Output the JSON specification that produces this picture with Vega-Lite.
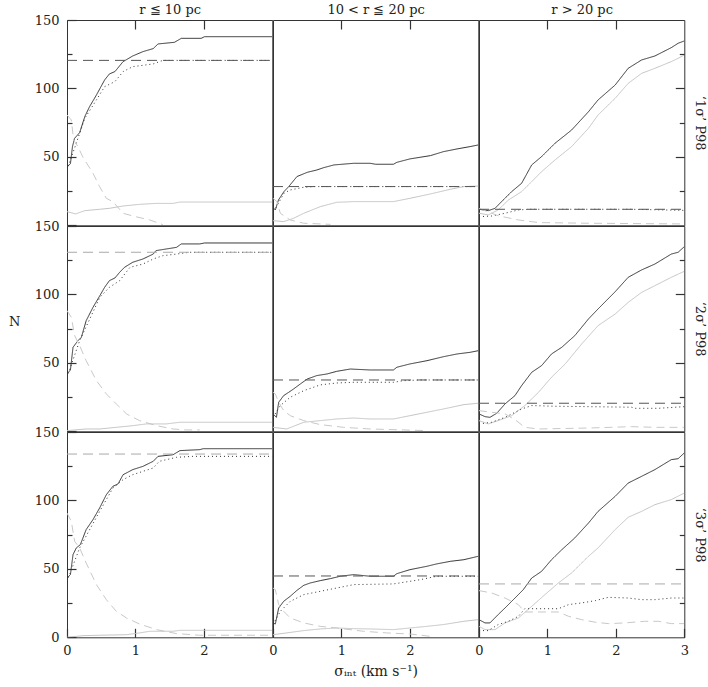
{
"$schema": "https://vega.github.io/schema/vega-lite/v6.json",
"padding": {"left": 7, "top": 2, "right": 5, "bottom": 5},
"background": "white",
"datasets": {"d": [
{"p":"a1","s":"t","x":0,"y":42.8},{"p":"a1","s":"t","x":0.05,"y":45},{"p":"a1","s":"t","x":0.08,"y":57.5},{"p":"a1","s":"t","x":0.11,"y":63.5},{"p":"a1","s":"t","x":0.185,"y":67.7},{"p":"a1","s":"t","x":0.26,"y":79.4},{"p":"a1","s":"t","x":0.33,"y":86.7},{"p":"a1","s":"t","x":0.43,"y":95.2},{"p":"a1","s":"t","x":0.55,"y":106.2},{"p":"a1","s":"t","x":0.62,"y":110.6},{"p":"a1","s":"t","x":0.7,"y":112.3},{"p":"a1","s":"t","x":0.82,"y":119.6},{"p":"a1","s":"t","x":0.96,"y":123.7},{"p":"a1","s":"t","x":1.11,"y":126.9},{"p":"a1","s":"t","x":1.26,"y":129.1},{"p":"a1","s":"t","x":1.33,"y":132.5},{"p":"a1","s":"t","x":1.57,"y":133.7},{"p":"a1","s":"t","x":1.67,"y":136.6},{"p":"a1","s":"t","x":1.96,"y":136.6},{"p":"a1","s":"t","x":2.01,"y":137.8},{"p":"a1","s":"t","x":3,"y":137.8},
{"p":"a1","s":"d","x":0,"y":40.4},{"p":"a1","s":"d","x":0.185,"y":67.2},{"p":"a1","s":"d","x":0.26,"y":78.2},{"p":"a1","s":"d","x":0.43,"y":91.6},{"p":"a1","s":"d","x":0.55,"y":101.3},{"p":"a1","s":"d","x":0.7,"y":105},{"p":"a1","s":"d","x":0.82,"y":112.3},{"p":"a1","s":"d","x":0.96,"y":115.9},{"p":"a1","s":"d","x":1.26,"y":117.9},{"p":"a1","s":"d","x":1.4,"y":120.5},{"p":"a1","s":"d","x":3,"y":120.5},
{"p":"a1","s":"g","x":0,"y":10},{"p":"a1","s":"g","x":0.127,"y":8.3},{"p":"a1","s":"g","x":0.26,"y":10.7},{"p":"a1","s":"g","x":0.477,"y":11.7},{"p":"a1","s":"g","x":0.62,"y":12.4},{"p":"a1","s":"g","x":0.82,"y":14.1},{"p":"a1","s":"g","x":1.06,"y":15.3},{"p":"a1","s":"g","x":1.3,"y":16},{"p":"a1","s":"g","x":1.55,"y":16},{"p":"a1","s":"g","x":1.65,"y":17},{"p":"a1","s":"g","x":3,"y":17},
{"p":"a1","s":"e","x":0,"y":80.6},{"p":"a1","s":"e","x":0.063,"y":77},{"p":"a1","s":"e","x":0.097,"y":62.3},{"p":"a1","s":"e","x":0.16,"y":57.5},{"p":"a1","s":"e","x":0.23,"y":50},{"p":"a1","s":"e","x":0.38,"y":38},{"p":"a1","s":"e","x":0.477,"y":28.2},{"p":"a1","s":"e","x":0.575,"y":19.7},{"p":"a1","s":"e","x":0.67,"y":17.3},{"p":"a1","s":"e","x":0.82,"y":8.8},{"p":"a1","s":"e","x":0.96,"y":6.8},{"p":"a1","s":"e","x":1.21,"y":3.9},{"p":"a1","s":"e","x":1.4,"y":0.5},
{"p":"a1","s":"h","x":0,"y":120.5},{"p":"a1","s":"h","x":3,"y":120.5},

{"p":"a2","s":"t","x":0,"y":13},{"p":"a2","s":"t","x":0.034,"y":11.2},{"p":"a2","s":"t","x":0.08,"y":18.5},{"p":"a2","s":"t","x":0.16,"y":24.6},{"p":"a2","s":"t","x":0.23,"y":28.3},{"p":"a2","s":"t","x":0.35,"y":35.6},{"p":"a2","s":"t","x":0.5,"y":38.7},{"p":"a2","s":"t","x":0.64,"y":40.4},{"p":"a2","s":"t","x":0.74,"y":42.1},{"p":"a2","s":"t","x":0.89,"y":44.1},{"p":"a2","s":"t","x":1.18,"y":45.3},{"p":"a2","s":"t","x":1.42,"y":45.3},{"p":"a2","s":"t","x":1.5,"y":44.6},{"p":"a2","s":"t","x":1.76,"y":44.6},{"p":"a2","s":"t","x":1.81,"y":46},{"p":"a2","s":"t","x":2,"y":48.5},{"p":"a2","s":"t","x":2.3,"y":50.9},{"p":"a2","s":"t","x":2.49,"y":53.8},{"p":"a2","s":"t","x":2.69,"y":55.8},{"p":"a2","s":"t","x":2.88,"y":57.5},{"p":"a2","s":"t","x":3,"y":58.7},
{"p":"a2","s":"d","x":0,"y":11},{"p":"a2","s":"d","x":0.034,"y":12},{"p":"a2","s":"d","x":0.16,"y":23.4},{"p":"a2","s":"d","x":0.25,"y":25.8},{"p":"a2","s":"d","x":0.45,"y":27.8},{"p":"a2","s":"d","x":0.6,"y":28.3},{"p":"a2","s":"d","x":3,"y":28.3},
{"p":"a2","s":"g","x":0,"y":3.4},{"p":"a2","s":"g","x":0.156,"y":2.7},{"p":"a2","s":"g","x":0.3,"y":5.1},{"p":"a2","s":"g","x":0.45,"y":8.8},{"p":"a2","s":"g","x":0.69,"y":13.6},{"p":"a2","s":"g","x":0.93,"y":16.8},{"p":"a2","s":"g","x":1.18,"y":17.3},{"p":"a2","s":"g","x":1.76,"y":17.3},{"p":"a2","s":"g","x":2,"y":19.7},{"p":"a2","s":"g","x":2.3,"y":22.9},{"p":"a2","s":"g","x":2.59,"y":26.3},{"p":"a2","s":"g","x":2.79,"y":28.3},{"p":"a2","s":"g","x":3,"y":28.7},
{"p":"a2","s":"e","x":0,"y":19.7},{"p":"a2","s":"e","x":0.058,"y":17.3},{"p":"a2","s":"e","x":0.107,"y":8.8},{"p":"a2","s":"e","x":0.25,"y":3.9},{"p":"a2","s":"e","x":0.45,"y":1.5},{"p":"a2","s":"e","x":0.84,"y":0.7},
{"p":"a2","s":"h","x":0,"y":28.3},{"p":"a2","s":"h","x":3,"y":28.3},

{"p":"a3","s":"t","x":0,"y":11.7},{"p":"a3","s":"t","x":0.136,"y":10.7},{"p":"a3","s":"t","x":0.234,"y":12.4},{"p":"a3","s":"t","x":0.33,"y":17.3},{"p":"a3","s":"t","x":0.477,"y":24.6},{"p":"a3","s":"t","x":0.623,"y":30.7},{"p":"a3","s":"t","x":0.77,"y":44.1},{"p":"a3","s":"t","x":0.915,"y":50.2},{"p":"a3","s":"t","x":1.11,"y":59.9},{"p":"a3","s":"t","x":1.353,"y":69.6},{"p":"a3","s":"t","x":1.6,"y":83},{"p":"a3","s":"t","x":1.74,"y":91.6},{"p":"a3","s":"t","x":1.99,"y":102.5},{"p":"a3","s":"t","x":2.18,"y":114.7},{"p":"a3","s":"t","x":2.376,"y":120.8},{"p":"a3","s":"t","x":2.57,"y":123.7},{"p":"a3","s":"t","x":2.81,"y":129.8},{"p":"a3","s":"t","x":2.91,"y":133},{"p":"a3","s":"t","x":3,"y":134.7},
{"p":"a3","s":"g","x":0,"y":8.8},{"p":"a3","s":"g","x":0.136,"y":7.6},{"p":"a3","s":"g","x":0.28,"y":11.2},{"p":"a3","s":"g","x":0.43,"y":18.5},{"p":"a3","s":"g","x":0.623,"y":24.6},{"p":"a3","s":"g","x":0.77,"y":31.9},{"p":"a3","s":"g","x":0.915,"y":39.2},{"p":"a3","s":"g","x":1.11,"y":47.7},{"p":"a3","s":"g","x":1.353,"y":57.5},{"p":"a3","s":"g","x":1.6,"y":70.9},{"p":"a3","s":"g","x":1.74,"y":80.6},{"p":"a3","s":"g","x":1.99,"y":92.8},{"p":"a3","s":"g","x":2.18,"y":103.7},{"p":"a3","s":"g","x":2.376,"y":111},{"p":"a3","s":"g","x":2.57,"y":114.7},{"p":"a3","s":"g","x":2.81,"y":119.6},{"p":"a3","s":"g","x":2.91,"y":122},{"p":"a3","s":"g","x":3,"y":124.4},
{"p":"a3","s":"d","x":0,"y":6.3},{"p":"a3","s":"d","x":0.185,"y":6.8},{"p":"a3","s":"d","x":0.38,"y":8.8},{"p":"a3","s":"d","x":0.575,"y":11.2},{"p":"a3","s":"d","x":0.72,"y":11.7},{"p":"a3","s":"d","x":2.23,"y":11.7},{"p":"a3","s":"d","x":3,"y":10.9},
{"p":"a3","s":"e","x":0,"y":12.4},{"p":"a3","s":"e","x":0.28,"y":7},{"p":"a3","s":"e","x":0.575,"y":3.9},{"p":"a3","s":"e","x":0.87,"y":2},{"p":"a3","s":"e","x":1.6,"y":1.5},{"p":"a3","s":"e","x":3,"y":1},
{"p":"a3","s":"h","x":0,"y":11.7},{"p":"a3","s":"h","x":3,"y":11.7},

{"p":"b1","s":"t","x":0,"y":41.9},{"p":"b1","s":"t","x":0.05,"y":44.8},{"p":"b1","s":"t","x":0.088,"y":61.4},{"p":"b1","s":"t","x":0.16,"y":66.2},{"p":"b1","s":"t","x":0.21,"y":68.7},{"p":"b1","s":"t","x":0.28,"y":80.8},{"p":"b1","s":"t","x":0.38,"y":90.6},{"p":"b1","s":"t","x":0.48,"y":99.1},{"p":"b1","s":"t","x":0.55,"y":105.2},{"p":"b1","s":"t","x":0.62,"y":110.1},{"p":"b1","s":"t","x":0.7,"y":112},{"p":"b1","s":"t","x":0.77,"y":116.2},{"p":"b1","s":"t","x":0.84,"y":119.8},{"p":"b1","s":"t","x":0.96,"y":123.5},{"p":"b1","s":"t","x":1.11,"y":125.9},{"p":"b1","s":"t","x":1.26,"y":129.5},{"p":"b1","s":"t","x":1.3,"y":132},{"p":"b1","s":"t","x":1.45,"y":133.2},{"p":"b1","s":"t","x":1.6,"y":134.4},{"p":"b1","s":"t","x":1.67,"y":136.9},{"p":"b1","s":"t","x":1.94,"y":136.9},{"p":"b1","s":"t","x":2.01,"y":137.6},{"p":"b1","s":"t","x":3,"y":137.6},
{"p":"b1","s":"d","x":0,"y":39.5},{"p":"b1","s":"d","x":0.185,"y":66.2},{"p":"b1","s":"d","x":0.48,"y":97.9},{"p":"b1","s":"d","x":0.62,"y":105.2},{"p":"b1","s":"d","x":0.77,"y":110.1},{"p":"b1","s":"d","x":0.92,"y":119.8},{"p":"b1","s":"d","x":1.11,"y":122.2},{"p":"b1","s":"d","x":1.26,"y":125.9},{"p":"b1","s":"d","x":1.4,"y":128.3},{"p":"b1","s":"d","x":1.6,"y":129.5},{"p":"b1","s":"d","x":1.79,"y":130.8},{"p":"b1","s":"d","x":3,"y":130.8},
{"p":"b1","s":"k","x":0,"y":130.8},{"p":"b1","s":"k","x":3,"y":130.8},
{"p":"b1","s":"e","x":0,"y":88.2},{"p":"b1","s":"e","x":0.063,"y":83.3},{"p":"b1","s":"e","x":0.112,"y":69.9},{"p":"b1","s":"e","x":0.185,"y":62.6},{"p":"b1","s":"e","x":0.28,"y":51.6},{"p":"b1","s":"e","x":0.43,"y":37},{"p":"b1","s":"e","x":0.575,"y":27.3},{"p":"b1","s":"e","x":0.72,"y":20},{"p":"b1","s":"e","x":0.87,"y":12.7},{"p":"b1","s":"e","x":1.06,"y":7.8},{"p":"b1","s":"e","x":1.31,"y":4.1},{"p":"b1","s":"e","x":1.55,"y":1.7},{"p":"b1","s":"e","x":1.74,"y":1},{"p":"b1","s":"e","x":1.94,"y":1},
{"p":"b1","s":"g","x":0,"y":0.5},{"p":"b1","s":"g","x":0.28,"y":1.7},{"p":"b1","s":"g","x":0.48,"y":1.7},{"p":"b1","s":"g","x":0.72,"y":2.9},{"p":"b1","s":"g","x":0.96,"y":4.1},{"p":"b1","s":"g","x":1.16,"y":5.4},{"p":"b1","s":"g","x":1.45,"y":5.4},{"p":"b1","s":"g","x":1.65,"y":6.6},{"p":"b1","s":"g","x":3,"y":6.6},

{"p":"b2","s":"t","x":0,"y":12.7},{"p":"b2","s":"t","x":0.05,"y":10.2},{"p":"b2","s":"t","x":0.083,"y":21.2},{"p":"b2","s":"t","x":0.156,"y":26.1},{"p":"b2","s":"t","x":0.23,"y":28.5},{"p":"b2","s":"t","x":0.3,"y":30.9},{"p":"b2","s":"t","x":0.4,"y":34.6},{"p":"b2","s":"t","x":0.5,"y":38.2},{"p":"b2","s":"t","x":0.64,"y":40.7},{"p":"b2","s":"t","x":0.79,"y":41.9},{"p":"b2","s":"t","x":0.93,"y":43.8},{"p":"b2","s":"t","x":1.13,"y":45.5},{"p":"b2","s":"t","x":1.42,"y":44.8},{"p":"b2","s":"t","x":1.76,"y":44.8},{"p":"b2","s":"t","x":1.81,"y":46.8},{"p":"b2","s":"t","x":2,"y":49.2},{"p":"b2","s":"t","x":2.25,"y":51.6},{"p":"b2","s":"t","x":2.49,"y":54.5},{"p":"b2","s":"t","x":2.69,"y":56.5},{"p":"b2","s":"t","x":2.88,"y":57.7},{"p":"b2","s":"t","x":3,"y":58.9},
{"p":"b2","s":"h","x":0,"y":37.5},{"p":"b2","s":"h","x":3,"y":37.5},
{"p":"b2","s":"d","x":0,"y":10.2},{"p":"b2","s":"d","x":0.107,"y":18.8},{"p":"b2","s":"d","x":0.25,"y":24.8},{"p":"b2","s":"d","x":0.45,"y":29.7},{"p":"b2","s":"d","x":0.69,"y":33.9},{"p":"b2","s":"d","x":0.93,"y":35.3},{"p":"b2","s":"d","x":1.18,"y":35.8},{"p":"b2","s":"d","x":1.76,"y":35.8},{"p":"b2","s":"d","x":1.91,"y":37},{"p":"b2","s":"d","x":2.15,"y":37.5},{"p":"b2","s":"d","x":3,"y":37.5},
{"p":"b2","s":"g","x":0,"y":2.9},{"p":"b2","s":"g","x":0.2,"y":1.7},{"p":"b2","s":"g","x":0.45,"y":6.6},{"p":"b2","s":"g","x":0.69,"y":7.8},{"p":"b2","s":"g","x":0.93,"y":9},{"p":"b2","s":"g","x":1.18,"y":9.7},{"p":"b2","s":"g","x":1.42,"y":9},{"p":"b2","s":"g","x":1.76,"y":9},{"p":"b2","s":"g","x":2,"y":11.4},{"p":"b2","s":"g","x":2.25,"y":13.9},{"p":"b2","s":"g","x":2.49,"y":16.3},{"p":"b2","s":"g","x":2.79,"y":19.5},{"p":"b2","s":"g","x":3,"y":20.5},
{"p":"b2","s":"e","x":0,"y":28.5},{"p":"b2","s":"e","x":0.034,"y":27.3},{"p":"b2","s":"e","x":0.083,"y":21.2},{"p":"b2","s":"e","x":0.156,"y":15.1},{"p":"b2","s":"e","x":0.253,"y":11.4},{"p":"b2","s":"e","x":0.45,"y":7.8},{"p":"b2","s":"e","x":0.69,"y":4.9},{"p":"b2","s":"e","x":1.03,"y":2.9},{"p":"b2","s":"e","x":1.42,"y":1.7},{"p":"b2","s":"e","x":1.91,"y":1},{"p":"b2","s":"e","x":2.25,"y":0.5},

{"p":"b3","s":"t","x":0,"y":12.7},{"p":"b3","s":"t","x":0.088,"y":10.7},{"p":"b3","s":"t","x":0.16,"y":10.2},{"p":"b3","s":"t","x":0.26,"y":13.2},{"p":"b3","s":"t","x":0.38,"y":20},{"p":"b3","s":"t","x":0.526,"y":26.1},{"p":"b3","s":"t","x":0.623,"y":33.4},{"p":"b3","s":"t","x":0.77,"y":43.1},{"p":"b3","s":"t","x":0.915,"y":48},{"p":"b3","s":"t","x":1.06,"y":56.5},{"p":"b3","s":"t","x":1.21,"y":61.4},{"p":"b3","s":"t","x":1.4,"y":69.9},{"p":"b3","s":"t","x":1.6,"y":82.1},{"p":"b3","s":"t","x":1.74,"y":89.4},{"p":"b3","s":"t","x":1.99,"y":102},{"p":"b3","s":"t","x":2.18,"y":112.5},{"p":"b3","s":"t","x":2.376,"y":117.9},{"p":"b3","s":"t","x":2.57,"y":122.2},{"p":"b3","s":"t","x":2.81,"y":129.5},{"p":"b3","s":"t","x":2.91,"y":130.8},{"p":"b3","s":"t","x":3,"y":134.9},
{"p":"b3","s":"g","x":0,"y":7.8},{"p":"b3","s":"g","x":0.136,"y":5.4},{"p":"b3","s":"g","x":0.28,"y":7.8},{"p":"b3","s":"g","x":0.477,"y":11.4},{"p":"b3","s":"g","x":0.67,"y":18.8},{"p":"b3","s":"g","x":0.87,"y":28.5},{"p":"b3","s":"g","x":1.06,"y":39.5},{"p":"b3","s":"g","x":1.26,"y":49.2},{"p":"b3","s":"g","x":1.5,"y":63.8},{"p":"b3","s":"g","x":1.74,"y":77.2},{"p":"b3","s":"g","x":1.99,"y":85.7},{"p":"b3","s":"g","x":2.18,"y":94.2},{"p":"b3","s":"g","x":2.376,"y":101.5},{"p":"b3","s":"g","x":2.57,"y":106.4},{"p":"b3","s":"g","x":2.81,"y":112.5},{"p":"b3","s":"g","x":3,"y":116.9},
{"p":"b3","s":"h","x":0,"y":20.5},{"p":"b3","s":"h","x":3,"y":20.5},
{"p":"b3","s":"d","x":0,"y":5.4},{"p":"b3","s":"d","x":0.185,"y":6.6},{"p":"b3","s":"d","x":0.38,"y":10.2},{"p":"b3","s":"d","x":0.623,"y":16.3},{"p":"b3","s":"d","x":0.77,"y":18.8},{"p":"b3","s":"d","x":1.11,"y":18.3},{"p":"b3","s":"d","x":2.23,"y":17.6},{"p":"b3","s":"d","x":2.28,"y":16.8},{"p":"b3","s":"d","x":2.62,"y":16.8},{"p":"b3","s":"d","x":3,"y":18},
{"p":"b3","s":"e","x":0,"y":15.1},{"p":"b3","s":"e","x":0.185,"y":13.9},{"p":"b3","s":"e","x":0.38,"y":12.7},{"p":"b3","s":"e","x":0.526,"y":8.5},{"p":"b3","s":"e","x":0.67,"y":2.9},{"p":"b3","s":"e","x":0.87,"y":1.7},{"p":"b3","s":"e","x":1.6,"y":2.4},{"p":"b3","s":"e","x":2.23,"y":3.4},{"p":"b3","s":"e","x":2.57,"y":2.9},{"p":"b3","s":"e","x":3,"y":2.9},

{"p":"c1","s":"t","x":0,"y":43.3},{"p":"c1","s":"t","x":0.05,"y":45.8},{"p":"c1","s":"t","x":0.088,"y":60.4},{"p":"c1","s":"t","x":0.136,"y":65.3},{"p":"c1","s":"t","x":0.195,"y":67.7},{"p":"c1","s":"t","x":0.28,"y":78.7},{"p":"c1","s":"t","x":0.38,"y":86},{"p":"c1","s":"t","x":0.477,"y":94.5},{"p":"c1","s":"t","x":0.575,"y":104.2},{"p":"c1","s":"t","x":0.67,"y":110.3},{"p":"c1","s":"t","x":0.745,"y":112},{"p":"c1","s":"t","x":0.82,"y":118.8},{"p":"c1","s":"t","x":0.96,"y":122.5},{"p":"c1","s":"t","x":1.11,"y":124.9},{"p":"c1","s":"t","x":1.26,"y":128.6},{"p":"c1","s":"t","x":1.33,"y":132.2},{"p":"c1","s":"t","x":1.55,"y":133.4},{"p":"c1","s":"t","x":1.65,"y":136.4},{"p":"c1","s":"t","x":1.94,"y":137.1},{"p":"c1","s":"t","x":1.99,"y":137.8},{"p":"c1","s":"t","x":3,"y":137.8},
{"p":"c1","s":"d","x":0,"y":40.9},{"p":"c1","s":"d","x":0.185,"y":65.3},{"p":"c1","s":"d","x":0.477,"y":92},{"p":"c1","s":"d","x":0.67,"y":109},{"p":"c1","s":"d","x":0.82,"y":115.2},{"p":"c1","s":"d","x":0.96,"y":118.8},{"p":"c1","s":"d","x":1.26,"y":123.7},{"p":"c1","s":"d","x":1.35,"y":128.6},{"p":"c1","s":"d","x":1.6,"y":131.5},{"p":"c1","s":"d","x":1.84,"y":132.2},{"p":"c1","s":"d","x":3,"y":132.2},
{"p":"c1","s":"k","x":0,"y":133.9},{"p":"c1","s":"k","x":3,"y":133.9},
{"p":"c1","s":"e","x":0,"y":90.8},{"p":"c1","s":"e","x":0.063,"y":84.7},{"p":"c1","s":"e","x":0.112,"y":70.1},{"p":"c1","s":"e","x":0.185,"y":65.3},{"p":"c1","s":"e","x":0.28,"y":54.3},{"p":"c1","s":"e","x":0.43,"y":38.5},{"p":"c1","s":"e","x":0.575,"y":27.5},{"p":"c1","s":"e","x":0.72,"y":19},{"p":"c1","s":"e","x":0.87,"y":14.1},{"p":"c1","s":"e","x":1.06,"y":9.7},{"p":"c1","s":"e","x":1.31,"y":5.6},{"p":"c1","s":"e","x":1.6,"y":2.7},{"p":"c1","s":"e","x":1.94,"y":1.5},{"p":"c1","s":"e","x":3,"y":1.5},
{"p":"c1","s":"g","x":0,"y":0},{"p":"c1","s":"g","x":0.234,"y":1.2},{"p":"c1","s":"g","x":0.477,"y":1.5},{"p":"c1","s":"g","x":0.87,"y":1.9},{"p":"c1","s":"g","x":1.06,"y":3.2},{"p":"c1","s":"g","x":1.21,"y":4.4},{"p":"c1","s":"g","x":1.55,"y":4.4},{"p":"c1","s":"g","x":1.65,"y":5.1},{"p":"c1","s":"g","x":3,"y":5.1},

{"p":"c2","s":"t","x":0,"y":10.5},{"p":"c2","s":"t","x":0.034,"y":9.7},{"p":"c2","s":"t","x":0.083,"y":21.4},{"p":"c2","s":"t","x":0.156,"y":26.3},{"p":"c2","s":"t","x":0.253,"y":30},{"p":"c2","s":"t","x":0.35,"y":34.3},{"p":"c2","s":"t","x":0.45,"y":38},{"p":"c2","s":"t","x":0.545,"y":39.7},{"p":"c2","s":"t","x":0.69,"y":41.4},{"p":"c2","s":"t","x":0.84,"y":42.9},{"p":"c2","s":"t","x":0.983,"y":44.6},{"p":"c2","s":"t","x":1.18,"y":45.8},{"p":"c2","s":"t","x":1.42,"y":44.6},{"p":"c2","s":"t","x":1.76,"y":44.6},{"p":"c2","s":"t","x":1.81,"y":46.5},{"p":"c2","s":"t","x":2,"y":49.4},{"p":"c2","s":"t","x":2.25,"y":51.9},{"p":"c2","s":"t","x":2.39,"y":53.6},{"p":"c2","s":"t","x":2.59,"y":55.5},{"p":"c2","s":"t","x":2.79,"y":56.7},{"p":"c2","s":"t","x":3,"y":59.2},
{"p":"c2","s":"h","x":0,"y":44.8},{"p":"c2","s":"h","x":3,"y":44.8},
{"p":"c2","s":"d","x":0,"y":9.3},{"p":"c2","s":"d","x":0.107,"y":19},{"p":"c2","s":"d","x":0.253,"y":26.3},{"p":"c2","s":"d","x":0.45,"y":31.2},{"p":"c2","s":"d","x":0.69,"y":33.6},{"p":"c2","s":"d","x":0.93,"y":36},{"p":"c2","s":"d","x":1.18,"y":38.5},{"p":"c2","s":"d","x":1.76,"y":39},{"p":"c2","s":"d","x":2.15,"y":42.1},{"p":"c2","s":"d","x":2.39,"y":44.6},{"p":"c2","s":"d","x":3,"y":44.6},
{"p":"c2","s":"g","x":0,"y":1.9},{"p":"c2","s":"g","x":0.2,"y":3.2},{"p":"c2","s":"g","x":0.45,"y":4.9},{"p":"c2","s":"g","x":0.69,"y":6.1},{"p":"c2","s":"g","x":0.93,"y":6.8},{"p":"c2","s":"g","x":1.18,"y":6.3},{"p":"c2","s":"g","x":1.42,"y":6.1},{"p":"c2","s":"g","x":1.76,"y":5.6},{"p":"c2","s":"g","x":2,"y":6.8},{"p":"c2","s":"g","x":2.25,"y":8},{"p":"c2","s":"g","x":2.49,"y":9.3},{"p":"c2","s":"g","x":2.79,"y":11.7},{"p":"c2","s":"g","x":3,"y":12.9},
{"p":"c2","s":"e","x":0,"y":36},{"p":"c2","s":"e","x":0.034,"y":34.8},{"p":"c2","s":"e","x":0.083,"y":23.9},{"p":"c2","s":"e","x":0.156,"y":19},{"p":"c2","s":"e","x":0.253,"y":14.1},{"p":"c2","s":"e","x":0.45,"y":10.5},{"p":"c2","s":"e","x":0.69,"y":8},{"p":"c2","s":"e","x":0.93,"y":6.8},{"p":"c2","s":"e","x":1.32,"y":4.4},{"p":"c2","s":"e","x":1.66,"y":3.2},{"p":"c2","s":"e","x":2,"y":2.4},{"p":"c2","s":"e","x":2.3,"y":0.7},

{"p":"c3","s":"t","x":0,"y":12.9},{"p":"c3","s":"t","x":0.088,"y":10.5},{"p":"c3","s":"t","x":0.16,"y":10.5},{"p":"c3","s":"t","x":0.28,"y":16.6},{"p":"c3","s":"t","x":0.38,"y":21.4},{"p":"c3","s":"t","x":0.526,"y":28.7},{"p":"c3","s":"t","x":0.647,"y":34.8},{"p":"c3","s":"t","x":0.77,"y":43.3},{"p":"c3","s":"t","x":0.915,"y":48.2},{"p":"c3","s":"t","x":1.06,"y":56.7},{"p":"c3","s":"t","x":1.21,"y":64},{"p":"c3","s":"t","x":1.4,"y":72.6},{"p":"c3","s":"t","x":1.6,"y":83.5},{"p":"c3","s":"t","x":1.74,"y":92},{"p":"c3","s":"t","x":1.99,"y":103},{"p":"c3","s":"t","x":2.18,"y":112.7},{"p":"c3","s":"t","x":2.376,"y":117.6},{"p":"c3","s":"t","x":2.57,"y":122.5},{"p":"c3","s":"t","x":2.81,"y":129.8},{"p":"c3","s":"t","x":2.91,"y":130.5},{"p":"c3","s":"t","x":3,"y":134.7},
{"p":"c3","s":"g","x":0,"y":8},{"p":"c3","s":"g","x":0.088,"y":5.6},{"p":"c3","s":"g","x":0.234,"y":5.6},{"p":"c3","s":"g","x":0.38,"y":10.5},{"p":"c3","s":"g","x":0.575,"y":14.1},{"p":"c3","s":"g","x":0.77,"y":22.6},{"p":"c3","s":"g","x":0.964,"y":31.2},{"p":"c3","s":"g","x":1.16,"y":39.7},{"p":"c3","s":"g","x":1.353,"y":47},{"p":"c3","s":"g","x":1.6,"y":59.2},{"p":"c3","s":"g","x":1.74,"y":65.3},{"p":"c3","s":"g","x":1.99,"y":78.7},{"p":"c3","s":"g","x":2.18,"y":87.7},{"p":"c3","s":"g","x":2.376,"y":92},{"p":"c3","s":"g","x":2.57,"y":96.9},{"p":"c3","s":"g","x":2.81,"y":100.6},{"p":"c3","s":"g","x":3,"y":105.4},
{"p":"c3","s":"k","x":0,"y":39},{"p":"c3","s":"k","x":3,"y":39},
{"p":"c3","s":"d","x":0,"y":4.9},{"p":"c3","s":"d","x":0.136,"y":4.9},{"p":"c3","s":"d","x":0.28,"y":9.3},{"p":"c3","s":"d","x":0.43,"y":11.7},{"p":"c3","s":"d","x":0.575,"y":15.3},{"p":"c3","s":"d","x":0.67,"y":20.9},{"p":"c3","s":"d","x":1.16,"y":20.9},{"p":"c3","s":"d","x":1.31,"y":23.9},{"p":"c3","s":"d","x":1.5,"y":25.1},{"p":"c3","s":"d","x":1.7,"y":26.8},{"p":"c3","s":"d","x":1.89,"y":29.2},{"p":"c3","s":"d","x":2.18,"y":28.7},{"p":"c3","s":"d","x":2.376,"y":27.5},{"p":"c3","s":"d","x":2.57,"y":27.5},{"p":"c3","s":"d","x":2.81,"y":28.7},{"p":"c3","s":"d","x":3,"y":28.7},
{"p":"c3","s":"e","x":0,"y":34.1},{"p":"c3","s":"e","x":0.185,"y":32.4},{"p":"c3","s":"e","x":0.38,"y":28.7},{"p":"c3","s":"e","x":0.575,"y":23.9},{"p":"c3","s":"e","x":0.67,"y":18.5},{"p":"c3","s":"e","x":1.16,"y":18.5},{"p":"c3","s":"e","x":1.31,"y":15.3},{"p":"c3","s":"e","x":1.5,"y":12.9},{"p":"c3","s":"e","x":1.7,"y":11},{"p":"c3","s":"e","x":1.89,"y":10},{"p":"c3","s":"e","x":2.13,"y":10.5},{"p":"c3","s":"e","x":2.42,"y":11.7},{"p":"c3","s":"e","x":2.62,"y":11.7},{"p":"c3","s":"e","x":2.81,"y":10},{"p":"c3","s":"e","x":3,"y":10}
]},
"data": {"name": "d"},
"columns": 3,
"spacing": 0,
"bounds": "flush",
"concat": [
{"width": 205.3, "height": 205.3, "transform": [{"filter": "datum.p === 'a1'"}], "mark": {"type": "line", "clip": true},
 "encoding": {
  "x": {"field": "x", "type": "quantitative", "scale": {"domain": [0, 3], "nice": false, "zero": false}, "axis": {"orient": "top", "values": [1, 2], "tickSize": -9, "labels": false, "domain": false, "title": "r ≦ 10 pc", "titlePadding": 3}},
  "y": {"field": "y", "type": "quantitative", "scale": {"domain": [0, 150], "nice": false}, "axis": {"orient": "left", "values": [0, 25, 50, 75, 100, 125, 150], "tickSize": {"condition": {"test": "datum.value % 50 === 0", "value": -9}, "value": -5}, "labelExpr": "datum.value % 50 === 0 && datum.value > 0 ? datum.label : ''", "labelPadding": 17, "domain": false, "title": null}},
  "color": {"field": "s", "type": "nominal", "scale": {"domain": ["t", "d", "g", "e", "h", "k"], "range": ["#333333", "#333333", "#c2c2c2", "#c8c8c8", "#555555", "#aaaaaa"]}, "legend": null},
  "strokeDash": {"field": "s", "type": "nominal", "scale": {"domain": ["t", "d", "g", "e", "h", "k"], "range": [[1, 0], [1, 3], [1, 0], [8, 5], [10, 6], [10, 6]]}, "legend": null},
  "strokeWidth": {"field": "s", "type": "nominal", "scale": {"domain": ["t", "d", "g", "e", "h", "k"], "range": [1, 1, 1, 1, 1, 2]}, "legend": null}
 }},
{"width": 205.3, "height": 205.3, "transform": [{"filter": "datum.p === 'a2'"}], "mark": {"type": "line", "clip": true},
 "encoding": {
  "x": {"field": "x", "type": "quantitative", "scale": {"domain": [0, 3], "nice": false, "zero": false}, "axis": {"orient": "top", "values": [1, 2], "tickSize": -9, "labels": false, "domain": false, "title": "10 < r ≦ 20 pc", "titlePadding": 3}},
  "y": {"field": "y", "type": "quantitative", "scale": {"domain": [0, 150], "nice": false}, "axis": null},
  "color": {"field": "s", "type": "nominal", "scale": {"domain": ["t", "d", "g", "e", "h", "k"], "range": ["#333333", "#333333", "#c2c2c2", "#c8c8c8", "#555555", "#aaaaaa"]}, "legend": null},
  "strokeDash": {"field": "s", "type": "nominal", "scale": {"domain": ["t", "d", "g", "e", "h", "k"], "range": [[1, 0], [1, 3], [1, 0], [8, 5], [10, 6], [10, 6]]}, "legend": null},
  "strokeWidth": {"field": "s", "type": "nominal", "scale": {"domain": ["t", "d", "g", "e", "h", "k"], "range": [1, 1, 1, 1, 1, 2]}, "legend": null}
 }},
{"width": 205.3, "height": 205.3, "transform": [{"filter": "datum.p === 'a3'"}], "mark": {"type": "line", "clip": true},
 "encoding": {
  "x": {"field": "x", "type": "quantitative", "scale": {"domain": [0, 3], "nice": false, "zero": false}, "axis": {"orient": "top", "values": [1, 2], "tickSize": -9, "labels": false, "domain": false, "title": "r > 20 pc", "titlePadding": 3}},
  "y": {"field": "y", "type": "quantitative", "scale": {"domain": [0, 150], "nice": false}, "axis": {"orient": "right", "values": [25, 50, 75, 100, 125], "tickSize": {"condition": {"test": "datum.value % 50 === 0", "value": -9}, "value": -5}, "labels": false, "domain": false, "title": "‘1σ’ P98", "titleAngle": 90, "titlePadding": 7.5}},
  "color": {"field": "s", "type": "nominal", "scale": {"domain": ["t", "d", "g", "e", "h", "k"], "range": ["#333333", "#333333", "#c2c2c2", "#c8c8c8", "#555555", "#aaaaaa"]}, "legend": null},
  "strokeDash": {"field": "s", "type": "nominal", "scale": {"domain": ["t", "d", "g", "e", "h", "k"], "range": [[1, 0], [1, 3], [1, 0], [8, 5], [10, 6], [10, 6]]}, "legend": null},
  "strokeWidth": {"field": "s", "type": "nominal", "scale": {"domain": ["t", "d", "g", "e", "h", "k"], "range": [1, 1, 1, 1, 1, 2]}, "legend": null}
 }},
{"width": 205.3, "height": 205.3, "transform": [{"filter": "datum.p === 'b1'"}], "mark": {"type": "line", "clip": true},
 "encoding": {
  "x": {"field": "x", "type": "quantitative", "scale": {"domain": [0, 3], "nice": false, "zero": false}, "axis": null},
  "y": {"field": "y", "type": "quantitative", "scale": {"domain": [0, 150], "nice": false}, "axis": {"orient": "left", "values": [0, 25, 50, 75, 100, 125, 150], "tickSize": {"condition": {"test": "datum.value % 50 === 0", "value": -9}, "value": -5}, "labelExpr": "datum.value % 50 === 0 && datum.value > 0 ? datum.label : ''", "labelPadding": 17, "domain": false, "title": "N", "titleAngle": 0, "titlePadding": 20}},
  "color": {"field": "s", "type": "nominal", "scale": {"domain": ["t", "d", "g", "e", "h", "k"], "range": ["#333333", "#333333", "#c2c2c2", "#c8c8c8", "#555555", "#aaaaaa"]}, "legend": null},
  "strokeDash": {"field": "s", "type": "nominal", "scale": {"domain": ["t", "d", "g", "e", "h", "k"], "range": [[1, 0], [1, 3], [1, 0], [8, 5], [10, 6], [10, 6]]}, "legend": null},
  "strokeWidth": {"field": "s", "type": "nominal", "scale": {"domain": ["t", "d", "g", "e", "h", "k"], "range": [1, 1, 1, 1, 1, 2]}, "legend": null}
 }},
{"width": 205.3, "height": 205.3, "transform": [{"filter": "datum.p === 'b2'"}], "mark": {"type": "line", "clip": true},
 "encoding": {
  "x": {"field": "x", "type": "quantitative", "scale": {"domain": [0, 3], "nice": false, "zero": false}, "axis": null},
  "y": {"field": "y", "type": "quantitative", "scale": {"domain": [0, 150], "nice": false}, "axis": null},
  "color": {"field": "s", "type": "nominal", "scale": {"domain": ["t", "d", "g", "e", "h", "k"], "range": ["#333333", "#333333", "#c2c2c2", "#c8c8c8", "#555555", "#aaaaaa"]}, "legend": null},
  "strokeDash": {"field": "s", "type": "nominal", "scale": {"domain": ["t", "d", "g", "e", "h", "k"], "range": [[1, 0], [1, 3], [1, 0], [8, 5], [10, 6], [10, 6]]}, "legend": null},
  "strokeWidth": {"field": "s", "type": "nominal", "scale": {"domain": ["t", "d", "g", "e", "h", "k"], "range": [1, 1, 1, 1, 1, 2]}, "legend": null}
 }},
{"width": 205.3, "height": 205.3, "transform": [{"filter": "datum.p === 'b3'"}], "mark": {"type": "line", "clip": true},
 "encoding": {
  "x": {"field": "x", "type": "quantitative", "scale": {"domain": [0, 3], "nice": false, "zero": false}, "axis": null},
  "y": {"field": "y", "type": "quantitative", "scale": {"domain": [0, 150], "nice": false}, "axis": {"orient": "right", "values": [25, 50, 75, 100, 125], "tickSize": {"condition": {"test": "datum.value % 50 === 0", "value": -9}, "value": -5}, "labels": false, "domain": false, "title": "‘2σ’ P98", "titleAngle": 90, "titlePadding": 7.5}},
  "color": {"field": "s", "type": "nominal", "scale": {"domain": ["t", "d", "g", "e", "h", "k"], "range": ["#333333", "#333333", "#c2c2c2", "#c8c8c8", "#555555", "#aaaaaa"]}, "legend": null},
  "strokeDash": {"field": "s", "type": "nominal", "scale": {"domain": ["t", "d", "g", "e", "h", "k"], "range": [[1, 0], [1, 3], [1, 0], [8, 5], [10, 6], [10, 6]]}, "legend": null},
  "strokeWidth": {"field": "s", "type": "nominal", "scale": {"domain": ["t", "d", "g", "e", "h", "k"], "range": [1, 1, 1, 1, 1, 2]}, "legend": null}
 }},
{"width": 205.3, "height": 205.3, "transform": [{"filter": "datum.p === 'c1'"}], "mark": {"type": "line", "clip": true},
 "encoding": {
  "x": {"field": "x", "type": "quantitative", "scale": {"domain": [0, 3], "nice": false, "zero": false}, "axis": {"orient": "bottom", "values": [0, 1, 2], "tickSize": -9, "labelPadding": 16, "labelFlush": false, "domain": false, "title": null}},
  "y": {"field": "y", "type": "quantitative", "scale": {"domain": [0, 150], "nice": false}, "axis": {"orient": "left", "values": [0, 25, 50, 75, 100, 125, 150], "tickSize": {"condition": {"test": "datum.value % 50 === 0", "value": -9}, "value": -5}, "labelExpr": "datum.value % 50 === 0 ? datum.label : ''", "labelPadding": 17, "domain": false, "title": null}},
  "color": {"field": "s", "type": "nominal", "scale": {"domain": ["t", "d", "g", "e", "h", "k"], "range": ["#333333", "#333333", "#c2c2c2", "#c8c8c8", "#555555", "#aaaaaa"]}, "legend": null},
  "strokeDash": {"field": "s", "type": "nominal", "scale": {"domain": ["t", "d", "g", "e", "h", "k"], "range": [[1, 0], [1, 3], [1, 0], [8, 5], [10, 6], [10, 6]]}, "legend": null},
  "strokeWidth": {"field": "s", "type": "nominal", "scale": {"domain": ["t", "d", "g", "e", "h", "k"], "range": [1, 1, 1, 1, 1, 2]}, "legend": null}
 }},
{"width": 205.3, "height": 205.3, "transform": [{"filter": "datum.p === 'c2'"}], "mark": {"type": "line", "clip": true},
 "encoding": {
  "x": {"field": "x", "type": "quantitative", "scale": {"domain": [0, 3], "nice": false, "zero": false}, "axis": {"orient": "bottom", "values": [0, 1, 2], "tickSize": -9, "labelPadding": 16, "labelFlush": false, "domain": false, "title": "σᵢₙₜ (km s⁻¹)", "titleFontSize": 14, "titlePadding": 7}},
  "y": {"field": "y", "type": "quantitative", "scale": {"domain": [0, 150], "nice": false}, "axis": null},
  "color": {"field": "s", "type": "nominal", "scale": {"domain": ["t", "d", "g", "e", "h", "k"], "range": ["#333333", "#333333", "#c2c2c2", "#c8c8c8", "#555555", "#aaaaaa"]}, "legend": null},
  "strokeDash": {"field": "s", "type": "nominal", "scale": {"domain": ["t", "d", "g", "e", "h", "k"], "range": [[1, 0], [1, 3], [1, 0], [8, 5], [10, 6], [10, 6]]}, "legend": null},
  "strokeWidth": {"field": "s", "type": "nominal", "scale": {"domain": ["t", "d", "g", "e", "h", "k"], "range": [1, 1, 1, 1, 1, 2]}, "legend": null}
 }},
{"width": 205.3, "height": 205.3, "transform": [{"filter": "datum.p === 'c3'"}], "mark": {"type": "line", "clip": true},
 "encoding": {
  "x": {"field": "x", "type": "quantitative", "scale": {"domain": [0, 3], "nice": false, "zero": false}, "axis": {"orient": "bottom", "values": [0, 1, 2, 3], "tickSize": -9, "labelPadding": 16, "labelFlush": false, "domain": false, "title": null}},
  "y": {"field": "y", "type": "quantitative", "scale": {"domain": [0, 150], "nice": false}, "axis": {"orient": "right", "values": [25, 50, 75, 100, 125], "tickSize": {"condition": {"test": "datum.value % 50 === 0", "value": -9}, "value": -5}, "labels": false, "domain": false, "title": "‘3σ’ P98", "titleAngle": 90, "titlePadding": 7.5}},
  "color": {"field": "s", "type": "nominal", "scale": {"domain": ["t", "d", "g", "e", "h", "k"], "range": ["#333333", "#333333", "#c2c2c2", "#c8c8c8", "#555555", "#aaaaaa"]}, "legend": null},
  "strokeDash": {"field": "s", "type": "nominal", "scale": {"domain": ["t", "d", "g", "e", "h", "k"], "range": [[1, 0], [1, 3], [1, 0], [8, 5], [10, 6], [10, 6]]}, "legend": null},
  "strokeWidth": {"field": "s", "type": "nominal", "scale": {"domain": ["t", "d", "g", "e", "h", "k"], "range": [1, 1, 1, 1, 1, 2]}, "legend": null}
 }}
],
"config": {
 "view": {"stroke": "#333333", "strokeWidth": 1},
 "axis": {"labelFont": "DejaVu Serif", "titleFont": "DejaVu Serif", "labelFontSize": 13, "titleFontSize": 13, "titleFontWeight": "normal", "labelColor": "#222222", "titleColor": "#222222", "tickColor": "#333333", "tickWidth": 1.2, "ticks": true, "zindex": 2, "grid": false}
}
}
